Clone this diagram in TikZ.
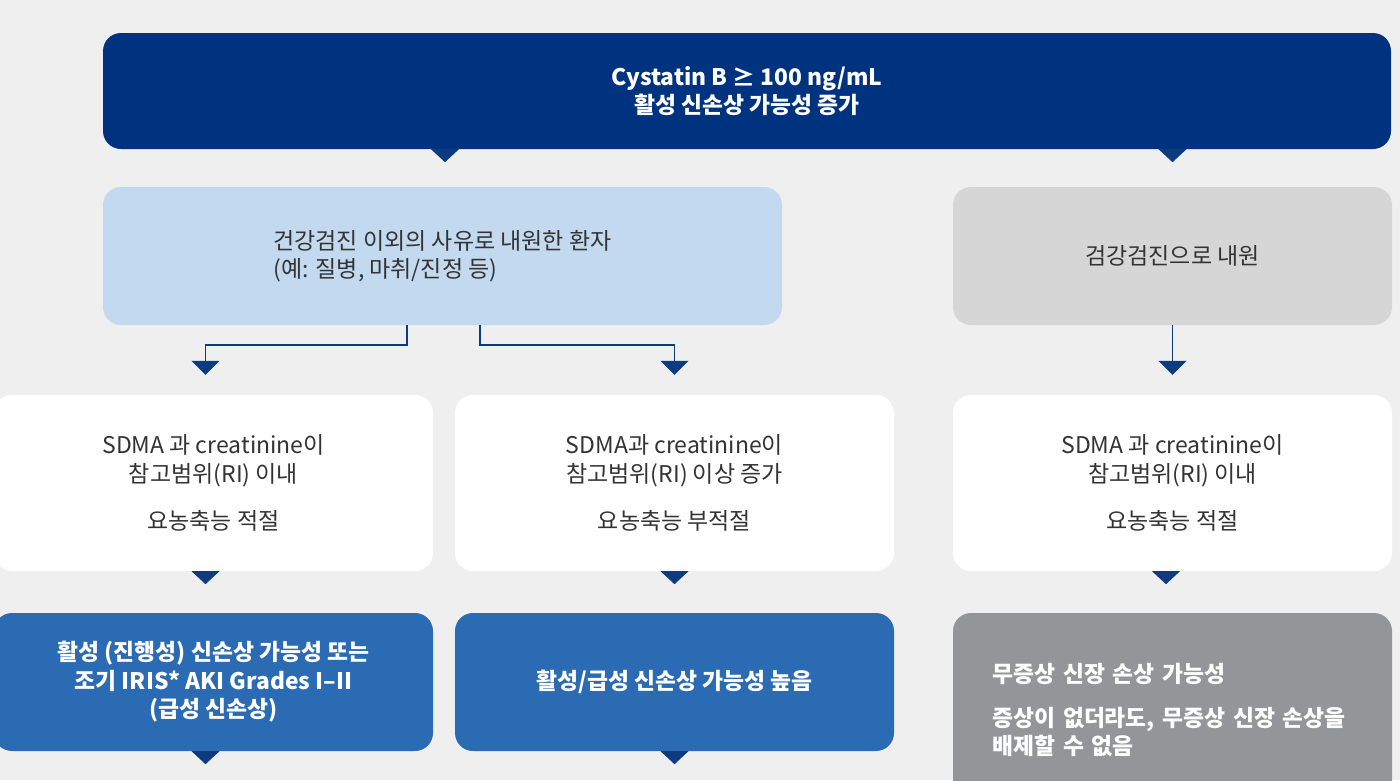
\documentclass[tikz,border=0pt]{standalone}
\usepackage{fontspec}
\setmainfont{Noto Sans CJK KR}
\usetikzlibrary{positioning,arrows.meta}
\definecolor{navy}{HTML}{00337F}
\definecolor{arrowblue}{HTML}{0E3B80}
\definecolor{paleblue}{HTML}{C2D9F0}
\definecolor{lightgrey}{HTML}{D6D6D6}
\definecolor{midblue}{HTML}{2B6BB3}
\definecolor{darkgrey}{HTML}{939598}
\definecolor{bggrey}{HTML}{EFEFEF}
\definecolor{textgrey}{HTML}{333333}
\tikzset{
    box/.style={
           rectangle,
           rounded corners=18pt,
           minimum width=439pt,
           minimum height=138pt,
           align=center,
           text=textgrey,
           font=\fontsize{23}{28.5}\selectfont
           },
    head/.style={
           box, fill=navy, text=white,
           minimum width=1288pt, minimum height=116pt,
           font=\fontsize{22.8}{28}\selectfont\bfseries
           },
    check/.style={
           box, fill=white, minimum height=176pt
           },
    result/.style={
           box, fill=midblue, text=white,
           font=\fontsize{22.8}{28.5}\selectfont\bfseries
           },
    flow/.style={
           draw=arrowblue, line width=1.5pt,
           shorten >=20pt,
           -{Triangle[width=28pt,length=14pt]}
           }
}
% little triangle under a box, #1 = sideways shift
\newcommand\notch[2][0pt]{\fill[arrowblue] ([xshift=#1-14pt]#2) -- ([xshift=#1+14pt]#2) -- ([xshift=#1,yshift=-13pt]#2) -- cycle;}

\begin{document}
\begin{tikzpicture}[x=1pt, y=-1pt, node distance=199pt, on grid]
   \useasboundingbox (0,0) rectangle (1400,780);
   \clip (0,0) rectangle (1400,780);
   \fill[bggrey] (0,0) rectangle (1400,780);
   % first test
   \node[head] (top) at (747,91) {Cystatin B ≥ 100 ng/mL\\활성 신손상 가능성 증가};
   \node[box, fill=paleblue, minimum width=679pt, align=left] (sick) at (442.5,256)
        {건강검진 이외의 사유로 내원한 환자\\(예: 질병, 마취/진정 등)};
   \node[box, fill=lightgrey] (visit) at (1172.5,256) {검강검진으로 내원};
   % urine / kidney values
   \node[check] (ri) at (213.5,483) {SDMA 과 creatinine이\\참고범위(RI) 이내\\[19pt]요농축능 적절};
   \node[check] (up) [right=461pt of ri] {SDMA과 creatinine이\\참고범위(RI) 이상 증가\\[19pt]요농축능 부적절};
   \node[check] (well) [right=498pt of up] {SDMA 과 creatinine이\\참고범위(RI) 이내\\[19pt]요농축능 적절};
   % outcomes
   \node[result] (early) [below=of ri] {활성 (진행성) 신손상 가능성 또는\\조기 IRIS* AKI Grades I–II\\(급성 신손상)};
   \node[result] (acute) [below=of up] {활성/급성 신손상 가능성 높음};
   \node[box, fill=darkgrey, text=white, minimum height=194pt, text width=360pt, align=left,
         font=\fontsize{22.8}{28.5}\selectfont\bfseries] (silent) at (1172.5,710)
        {무증상 신장 손상 가능성\\[15pt]증상이 없더라도, 무증상 신장 손상을\\배제할 수 없음};
   % notches under the boxes
   \coordinate (tl) at (top.south -| sick.center);
   \coordinate (tr) at (top.south -| visit.center);
   \notch[2.5pt]{tl}
   \notch{tr}
   \notch[-8pt]{ri.south}
   \notch{up.south}
   \notch[-6.5pt]{well.south}
   \notch[-8pt]{early.south}
   \notch{acute.south}
   % connectors
   \draw[flow] ([xshift=-35.5pt]sick.south) -- ++(0,20) -| ([xshift=-8pt]ri.north);
   \draw[flow] ([xshift=37.5pt]sick.south) -- ++(0,20) -| (up.north);
   \draw[flow] (visit.south) -- (well.north);
\end{tikzpicture}
\end{document}
